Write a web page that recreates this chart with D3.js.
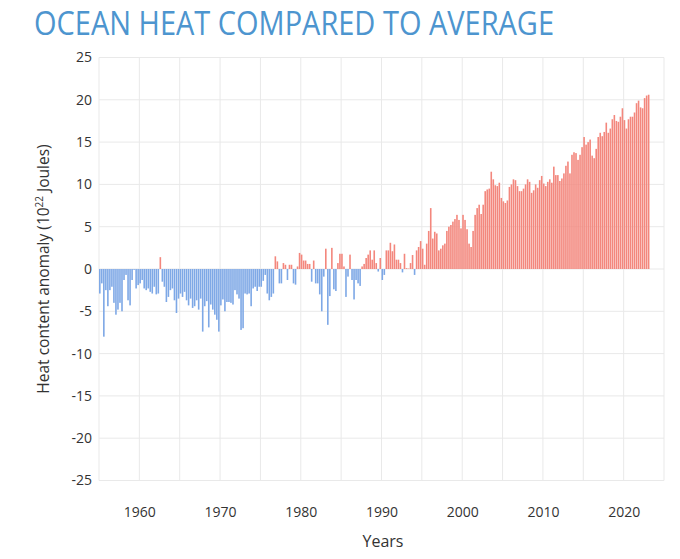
<!DOCTYPE html>
<html>
<head>
<meta charset="utf-8">
<script src="https://cdn.jsdelivr.net/npm/d3@7"></script>
<style>
  body { margin: 0; background: #fff; }
  text { font-family: 'Open Sans', 'Noto Sans', sans-serif; }
</style>
</head>
<body>
<div id="app"></div>
<script>
// quarterly heat content anomaly, 10^22 J, one row per year starting 1955
const firstYear = 1955;
const heat = [
  -2.9, -1.7, -8.0, -2.5,
  -4.4, -2.5, -2.1, -4.0,
  -5.4, -4.8, -4.0, -5.0,
  -1.3, -0.7, -3.7, -4.3,
  -1.3, -0.1, -2.3, -1.9,
  -1.7, -1.3, -2.3, -2.5,
  -2.3, -2.7, -2.9, -2.1,
  -3.0, -2.9, 1.4, -1.5,
  -2.1, -3.9, -3.3, -2.5,
  -2.3, -3.7, -5.2, -3.5,
  -2.9, -3.3, -2.7, -3.7,
  -4.3, -3.5, -4.6, -4.4,
  -3.7, -4.8, -3.5, -7.4,
  -4.4, -3.8, -6.9, -4.2,
  -4.8, -5.4, -6.0, -7.4,
  -4.3, -3.6, -5.0, -3.9,
  -3.9, -4.0, -4.2, -2.5,
  -3.0, -3.5, -7.2, -7.0,
  -2.9, -3.0, -2.9, -4.4,
  -2.3, -2.1, -2.6, -2.1,
  -2.1, -1.4, -0.7, -2.9,
  -3.7, -3.3, -2.9, 1.5,
  0.9, -1.7, -1.7, 0.7,
  0.5, -1.3, 0.5, 0.5,
  -1.7, -1.85, 0.3, 1.9,
  1.7, 1.0, 1.0, 0.6,
  0.6, -1.5, 1.0, -1.7,
  -1.7, -3.0, -5.0, -0.9,
  2.4, -6.6, -3.2, 2.5,
  -2.4, -2.6, 0.7, 1.8,
  1.8, 0.3, -3.3, -0.9,
  1.7, -1.3, -3.6, -1.3,
  -1.7, -2.0, 0.3, 0.6,
  1.3, 1.7, 2.2, 1.1,
  2.2, 0.7, -0.3, 1.3,
  -1.3, -0.7, 2.2, 2.2,
  3.1, 2.1, 2.9, 1.1,
  1.1, 0.7, -0.4, 1.8,
  0.1, 0.05, 0.7, 1.65,
  -0.7, 2.2, 2.6, 3.3,
  2.4, 0.5, 3.0, 4.5,
  7.2, 3.6, 4.4, 4.2,
  2.2, 2.4, 2.8, 3.0,
  4.5, 5.0, 5.2, 5.6,
  5.9, 6.4, 5.8, 4.8,
  6.4, 5.8, 4.7, 3.0,
  2.6, 4.5, 6.4, 7.2,
  7.6, 6.5, 7.6, 9.2,
  9.4, 9.5, 11.5, 10.6,
  9.9, 9.8, 10.2, 8.4,
  8.0, 7.8, 8.1, 9.7,
  10.0, 10.6, 10.5, 9.8,
  9.2, 9.2, 9.5, 10.0,
  10.6, 10.3, 9.0, 9.3,
  10.0, 9.6, 10.5, 11.0,
  10.1, 9.8, 10.3, 10.6,
  10.2, 12.1, 11.1, 11.1,
  10.4, 10.7, 11.3, 12.2,
  12.7, 11.3, 13.5, 13.8,
  13.7, 12.9, 13.5, 14.4,
  15.6, 14.7, 15.0, 15.3,
  13.4, 13.1, 14.2, 15.6,
  16.1, 15.7, 16.2, 17.3,
  16.1, 16.6, 17.7, 18.2,
  17.5, 17.4, 18.0, 19.0,
  17.6, 16.6, 17.7, 18.0,
  18.0, 18.5, 19.6, 19.9,
  19.1, 19.0, 20.2, 20.5,
  20.6
];
const yTicks = [-25, -20, -15, -10, -5, 0, 5, 10, 15, 20, 25];
const xTicks = [1960, 1970, 1980, 1990, 2000, 2010, 2020];
const xGrid = [1955, 1960, 1965, 1970, 1975, 1980, 1985, 1990, 1995, 2000, 2005, 2010, 2015, 2020, 2025];

const width = 680;
const height = 559;
const svg = d3.select('#app').append('svg')
  .attr('width', width)
  .attr('height', height);

const x = d3.scaleLinear().domain([1955, 2025]).range([99, 664]);
const y = d3.scaleLinear().domain([-25, 25]).range([480.5, 57.5]);

const data = heat.map((v, i) => ({ t: firstYear + i / 4, v }));

// grid
svg.append('g').selectAll('line')
  .data(yTicks)
  .enter().append('line')
  .attr('x1', x(1955)).attr('x2', x(2025))
  .attr('y1', d => y(d)).attr('y2', d => y(d))
  .attr('stroke', '#e9e9e9');

svg.append('g').selectAll('line')
  .data(xGrid)
  .enter().append('line')
  .attr('x1', d => x(d)).attr('x2', d => x(d))
  .attr('y1', y(25)).attr('y2', y(-25))
  .attr('stroke', '#e9e9e9');

// bars
svg.append('g').selectAll('rect')
  .data(data)
  .enter().append('rect')
  .attr('x', d => x(d.t))
  .attr('width', 1.6)
  .attr('y', d => y(Math.max(0, d.v)))
  .attr('height', d => Math.abs(y(d.v) - y(0)))
  .attr('fill', d => d.v >= 0 ? '#f3877d' : '#7ea8e6');

// axes
const yAxis = svg.append('g')
  .attr('transform', `translate(${x(1955)},0)`)
  .call(d3.axisLeft(y).tickValues(yTicks).tickFormat(d => String(d)).tickSize(0).tickPadding(7));
yAxis.select('.domain').remove();
yAxis.selectAll('text').attr('font-size', 14).attr('fill', '#333');

const xAxis = svg.append('g')
  .attr('transform', `translate(0,${y(-25)})`)
  .call(d3.axisBottom(x).tickValues(xTicks).tickFormat(d3.format('d')).tickSize(0).tickPadding(27));
xAxis.select('.domain').remove();
xAxis.selectAll('text').attr('font-size', 14).attr('fill', '#333');

// labels
svg.append('text')
  .attr('x', 34)
  .attr('y', 35)
  .attr('font-size', 33)
  .attr('textLength', 520)
  .attr('lengthAdjust', 'spacingAndGlyphs')
  .attr('fill', '#4d95cf')
  .text('OCEAN HEAT COMPARED TO AVERAGE');

svg.append('text')
  .attr('x', 383)
  .attr('y', 547)
  .attr('text-anchor', 'middle')
  .attr('font-size', 16)
  .attr('fill', '#333')
  .text('Years');

const yl = svg.append('text')
  .attr('transform', 'translate(49,269) rotate(-90)')
  .attr('text-anchor', 'middle')
  .attr('font-size', 15.5)
  .attr('fill', '#333');
yl.append('tspan').text('Heat content anomaly (10');
yl.append('tspan').attr('font-size', 10).attr('dy', -6).text('22');
yl.append('tspan').attr('dy', 6).text(' Joules)');
</script>
</body>
</html>
